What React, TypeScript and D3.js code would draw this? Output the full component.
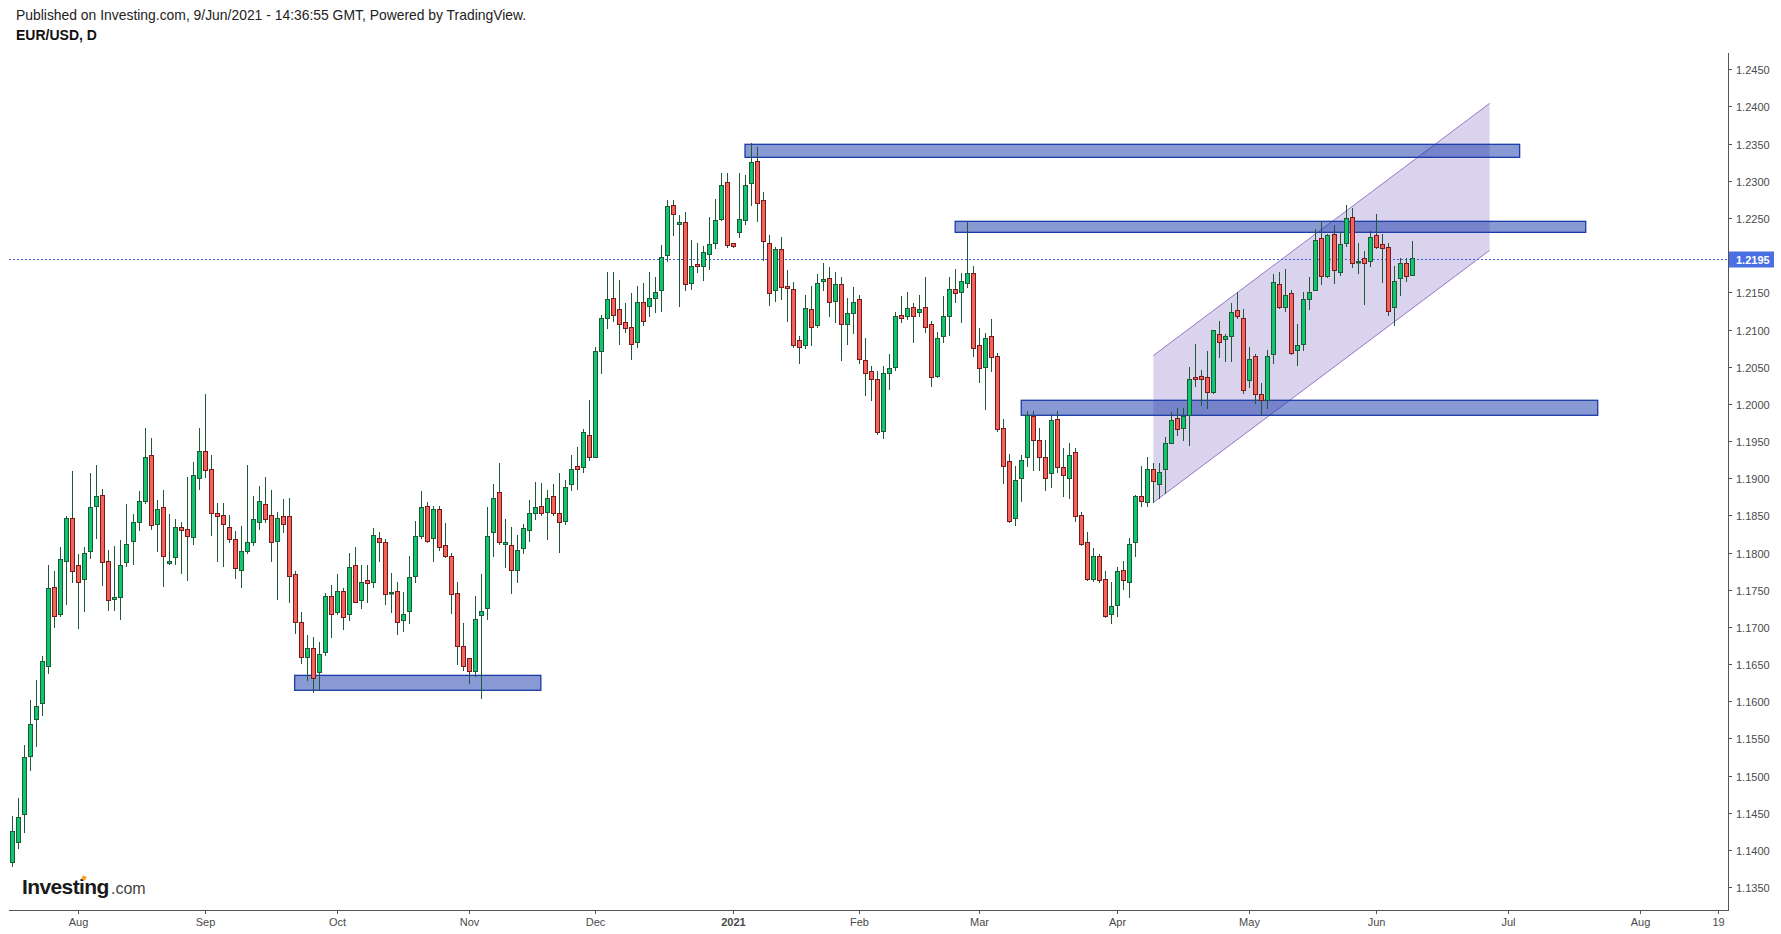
import React from "react";
import * as d3 from "d3";

// ---------- DATA (EUR/USD daily) ----------
const START_DATE = "2020-07-17";
const END_AXIS_DATE = "2021-08-31";

const opens = [
  1.1384, 1.1410, 1.1448, 1.1527, 1.1576, 1.1597, 1.1647, 1.1753, 1.1718, 1.1788,
  1.1846, 1.1783, 1.1765, 1.1802, 1.1863, 1.1877, 1.1788, 1.1738, 1.1740, 1.1787,
  1.1815, 1.1841, 1.1870, 1.1931, 1.1839, 1.1861, 1.1786, 1.1794, 1.1835, 1.1831,
  1.1821, 1.1900, 1.1936, 1.1912, 1.1853, 1.1850, 1.1834, 1.1818, 1.1777, 1.1802,
  1.1814, 1.1841, 1.1865, 1.1850, 1.1816, 1.1849, 1.1849, 1.1771, 1.1707, 1.1660,
  1.1671, 1.1639, 1.1666, 1.1742, 1.1720, 1.1748, 1.1717, 1.1783, 1.1736, 1.1763,
  1.1760, 1.1819, 1.1814, 1.1745, 1.1748, 1.1709, 1.1722, 1.1769, 1.1822, 1.1862,
  1.1819, 1.1858, 1.1810, 1.1796, 1.1746, 1.1674, 1.1658, 1.1640, 1.1716, 1.1725,
  1.1827, 1.1882, 1.1812, 1.1810, 1.1777, 1.1806, 1.1830, 1.1853, 1.1863, 1.1854,
  1.1876, 1.1853, 1.1842, 1.1892, 1.1916, 1.1915, 1.1958, 1.1928, 1.2071, 1.2115,
  1.2142, 1.2128, 1.2110, 1.2103, 1.2083, 1.2137, 1.2131, 1.2143, 1.2153, 1.2200,
  1.2268, 1.2242, 1.2244, 1.2163, 1.2188, 1.2186, 1.2202, 1.2217, 1.2248, 1.2298,
  1.2216, 1.2231, 1.2247, 1.2297, 1.2326, 1.2274, 1.2217, 1.2153, 1.2208, 1.2158,
  1.2154, 1.2086, 1.2079, 1.2127, 1.2106, 1.2165, 1.2169, 1.2138, 1.2161, 1.2108,
  1.2122, 1.2141, 1.2059, 1.2044, 1.2034, 1.1964, 1.2042, 1.2049, 1.2119, 1.2118,
  1.2130, 1.2123, 1.2130, 1.2107, 1.2037, 1.2091, 1.2118, 1.2155, 1.2150, 1.2163,
  1.2176, 1.2079, 1.2049, 1.2091, 1.2064, 1.1968, 1.1923, 1.1847, 1.1900, 1.1929,
  1.1983, 1.1952, 1.1929, 1.1907, 1.1979, 1.1915, 1.1900, 1.1935, 1.1851, 1.1814,
  1.1764, 1.1795, 1.1764, 1.1717, 1.1730, 1.1777, 1.1761, 1.1814, 1.1876, 1.1868,
  1.1913, 1.1892, 1.1912, 1.1948, 1.1981, 1.1967, 1.1985, 1.2036, 1.2037, 1.2036,
  1.2016, 1.2094, 1.2087, 1.2091, 1.2126, 1.2116, 1.2032, 1.2064, 1.2013, 1.2005,
  1.2067, 1.2161, 1.2130, 1.2149, 1.2073, 1.2080, 1.2141, 1.2153, 1.2223, 1.2172,
  1.2228, 1.2178, 1.2217, 1.2252, 1.2191, 1.2196, 1.2192, 1.2227, 1.2215, 1.2211,
  1.2130, 1.2169, 1.2190, 1.2173,
];
const highs = [
  1.1446, 1.1470, 1.1541, 1.1602, 1.1629, 1.1661, 1.1783, 1.1775, 1.1807, 1.1849,
  1.1910, 1.1798, 1.1807, 1.1907, 1.1918, 1.1885, 1.1803, 1.1809, 1.1817, 1.1865,
  1.1852, 1.1883, 1.1967, 1.1954, 1.1871, 1.1884, 1.1852, 1.1845, 1.1841, 1.1902,
  1.1922, 1.1968, 1.2013, 1.1931, 1.1867, 1.1867, 1.1850, 1.1829, 1.1836, 1.1918,
  1.1876, 1.1889, 1.1902, 1.1884, 1.1855, 1.1872, 1.1873, 1.1775, 1.1720, 1.1689,
  1.1686, 1.1680, 1.1746, 1.1756, 1.1771, 1.1752, 1.1799, 1.1808, 1.1783, 1.1783,
  1.1833, 1.1828, 1.1818, 1.1772, 1.1760, 1.1747, 1.1795, 1.1842, 1.1883, 1.1868,
  1.1863, 1.1862, 1.1840, 1.1799, 1.1760, 1.1705, 1.1658, 1.1741, 1.1771, 1.1861,
  1.1892, 1.1921, 1.1845, 1.1835, 1.1824, 1.1838, 1.1871, 1.1895, 1.1894, 1.1884,
  1.1892, 1.1907, 1.1897, 1.1931, 1.1942, 1.1966, 1.2005, 1.2077, 1.2119, 1.2177,
  1.2178, 1.2167, 1.2135, 1.2149, 1.2159, 1.2163, 1.2178, 1.2170, 1.2213, 1.2274,
  1.2274, 1.2254, 1.2258, 1.2221, 1.2217, 1.2212, 1.2251, 1.2275, 1.2310, 1.2310,
  1.2217, 1.2310, 1.2308, 1.2351, 1.2346, 1.2285, 1.2227, 1.2211, 1.2224, 1.2180,
  1.2164, 1.2091, 1.2146, 1.2158, 1.2174, 1.2190, 1.2184, 1.2177, 1.2170, 1.2143,
  1.2157, 1.2146, 1.2088, 1.2051, 1.2044, 1.2051, 1.2067, 1.2123, 1.2145, 1.2150,
  1.2135, 1.2146, 1.2170, 1.2111, 1.2096, 1.2145, 1.2170, 1.2181, 1.2176, 1.2244,
  1.2186, 1.2102, 1.2095, 1.2114, 1.2068, 1.1979, 1.1933, 1.1917, 1.1931, 1.1991,
  1.1990, 1.1968, 1.1952, 1.1986, 1.1990, 1.1940, 1.1948, 1.1941, 1.1854, 1.1828,
  1.1806, 1.1798, 1.1775, 1.1761, 1.1781, 1.1788, 1.1820, 1.1878, 1.1916, 1.1928,
  1.1921, 1.1920, 1.1956, 1.1989, 1.1995, 1.1995, 1.2049, 1.2080, 1.2045, 1.2071,
  1.2100, 1.2112, 1.2094, 1.2135, 1.2151, 1.2127, 1.2077, 1.2067, 1.2028, 1.2073,
  1.2174, 1.2178, 1.2182, 1.2153, 1.2108, 1.2151, 1.2170, 1.2235, 1.2246, 1.2229,
  1.2240, 1.2231, 1.2267, 1.2264, 1.2216, 1.2205, 1.2232, 1.2255, 1.2228, 1.2217,
  1.2186, 1.2196, 1.2196, 1.2219,
];
const lows = [
  1.1379, 1.1403, 1.1424, 1.1508, 1.1540, 1.1582, 1.1638, 1.1700, 1.1715, 1.1731,
  1.1760, 1.1698, 1.1722, 1.1793, 1.1819, 1.1757, 1.1723, 1.1723, 1.1711, 1.1782,
  1.1784, 1.1830, 1.1866, 1.1831, 1.1802, 1.1755, 1.1785, 1.1784, 1.1773, 1.1763,
  1.1812, 1.1885, 1.1902, 1.1823, 1.1789, 1.1782, 1.1814, 1.1766, 1.1754, 1.1800,
  1.1810, 1.1831, 1.1841, 1.1788, 1.1738, 1.1828, 1.1733, 1.1692, 1.1652, 1.1628,
  1.1613, 1.1615, 1.1662, 1.1686, 1.1718, 1.1697, 1.1709, 1.1733, 1.1726, 1.1734,
  1.1754, 1.1788, 1.1731, 1.1720, 1.1690, 1.1695, 1.1705, 1.1761, 1.1820, 1.1814,
  1.1788, 1.1804, 1.1794, 1.1719, 1.1650, 1.1642, 1.1624, 1.1634, 1.1605, 1.1711,
  1.1796, 1.1812, 1.1781, 1.1746, 1.1760, 1.1800, 1.1815, 1.1845, 1.1850, 1.1818,
  1.1851, 1.1801, 1.1838, 1.1884, 1.1886, 1.1909, 1.1925, 1.1928, 1.2041, 1.2102,
  1.2111, 1.2080, 1.2096, 1.2060, 1.2076, 1.2106, 1.2118, 1.2123, 1.2125, 1.2192,
  1.2227, 1.2131, 1.2153, 1.2155, 1.2178, 1.2166, 1.2182, 1.2209, 1.2247, 1.2211,
  1.2211, 1.2224, 1.2242, 1.2267, 1.2246, 1.2193, 1.2133, 1.2138, 1.2141, 1.2112,
  1.2076, 1.2055, 1.2075, 1.2079, 1.2104, 1.2153, 1.2118, 1.2110, 1.2059, 1.2081,
  1.2095, 1.2055, 1.2012, 1.2005, 1.1959, 1.1954, 1.2020, 1.2046, 1.2110, 1.2114,
  1.2083, 1.2118, 1.2096, 1.2024, 1.2036, 1.2083, 1.2092, 1.2137, 1.2110, 1.2157,
  1.2064, 1.2029, 1.1993, 1.2044, 1.1963, 1.1894, 1.1841, 1.1837, 1.1870, 1.1917,
  1.1911, 1.1911, 1.1884, 1.1888, 1.1908, 1.1876, 1.1873, 1.1843, 1.1810, 1.1763,
  1.1762, 1.1761, 1.1713, 1.1705, 1.1714, 1.1751, 1.1740, 1.1796, 1.1862, 1.1862,
  1.1868, 1.1873, 1.1880, 1.1947, 1.1958, 1.1951, 1.1944, 1.2024, 1.1999, 1.1994,
  1.2014, 1.2063, 1.2057, 1.2057, 1.2116, 1.2014, 1.2022, 1.2001, 1.1987, 1.1994,
  1.2055, 1.2129, 1.2125, 1.2067, 1.2052, 1.2072, 1.2127, 1.2153, 1.2161, 1.2170,
  1.2162, 1.2173, 1.2212, 1.2184, 1.2176, 1.2134, 1.2185, 1.2209, 1.2164, 1.2119,
  1.2106, 1.2146, 1.2165, 1.2173,
];
const closes = [
  1.1426, 1.1444, 1.1525, 1.1569, 1.1594, 1.1654, 1.1752, 1.1714, 1.1791, 1.1846,
  1.1775, 1.1761, 1.1800, 1.1861, 1.1876, 1.1787, 1.1736, 1.1740, 1.1783, 1.1812,
  1.1841, 1.1869, 1.1929, 1.1837, 1.1859, 1.1795, 1.1788, 1.1834, 1.1830, 1.1822,
  1.1904, 1.1936, 1.1911, 1.1853, 1.1849, 1.1838, 1.1818, 1.1779, 1.1802, 1.1814,
  1.1845, 1.1869, 1.1845, 1.1814, 1.1847, 1.1838, 1.1769, 1.1706, 1.1659, 1.1672,
  1.1631, 1.1664, 1.1742, 1.1718, 1.1748, 1.1713, 1.1781, 1.1734, 1.1760, 1.1759,
  1.1824, 1.1814, 1.1744, 1.1747, 1.1706, 1.1718, 1.1767, 1.1822, 1.1861, 1.1816,
  1.1859, 1.1808, 1.1795, 1.1744, 1.1674, 1.1647, 1.1640, 1.1711, 1.1722, 1.1822,
  1.1873, 1.1814, 1.1814, 1.1777, 1.1804, 1.1833, 1.1853, 1.1861, 1.1853, 1.1873,
  1.1853, 1.1841, 1.1888, 1.1913, 1.1913, 1.1962, 1.1928, 1.2071, 1.2115, 1.2141,
  1.2120, 1.2108, 1.2102, 1.2081, 1.2137, 1.2111, 1.2143, 1.2151, 1.2197, 1.2266,
  1.2255, 1.2244, 1.2161, 1.2185, 1.2186, 1.2204, 1.2215, 1.2247, 1.2295, 1.2213,
  1.2212, 1.2248, 1.2294, 1.2325, 1.2270, 1.2219, 1.2149, 1.2208, 1.2157, 1.2156,
  1.2079, 1.2076, 1.2129, 1.2104, 1.2162, 1.2168, 1.2137, 1.2161, 1.2108, 1.2122,
  1.2137, 1.2060, 1.2042, 1.2034, 1.1962, 1.2042, 1.2048, 1.2118, 1.2116, 1.2129,
  1.2118, 1.2127, 1.2104, 1.2036, 1.2088, 1.2118, 1.2154, 1.2149, 1.2165, 1.2176,
  1.2075, 1.2048, 1.2089, 1.2063, 1.1966, 1.1917, 1.1843, 1.1898, 1.1925, 1.1985,
  1.1952, 1.1928, 1.1900, 1.1978, 1.1915, 1.1904, 1.1931, 1.1849, 1.1812, 1.1764,
  1.1796, 1.1763, 1.1714, 1.1728, 1.1775, 1.1763, 1.1811, 1.1876, 1.1870, 1.1912,
  1.1896, 1.1909, 1.1947, 1.1978, 1.1966, 1.1983, 1.2033, 1.2033, 1.2033, 1.2016,
  1.2099, 1.2083, 1.2091, 1.2123, 1.2118, 1.2018, 1.2061, 1.2013, 1.2005, 1.2064,
  1.2164, 1.2130, 1.2146, 1.2069, 1.2079, 1.2141, 1.2151, 1.2220, 1.2172, 1.2227,
  1.2180, 1.2215, 1.2250, 1.2190, 1.2192, 1.2189, 1.2225, 1.2211, 1.2209, 1.2125,
  1.2165, 1.2189, 1.2172, 1.2196,
];

const yTickLabels = [
  "1.1350", "1.1400", "1.1450", "1.1500", "1.1550", "1.1600", "1.1650", "1.1700",
  "1.1750", "1.1800", "1.1850", "1.1900", "1.1950", "1.2000", "1.2050", "1.2100",
  "1.2150", "1.2200", "1.2250", "1.2300", "1.2350", "1.2400", "1.2450",
];

const monthLabels = ["Aug", "Sep", "Oct", "Nov", "Dec", "2021", "Feb", "Mar", "Apr", "May", "Jun", "Jul", "Aug", "19"];
const monthDates = [
  "2020-08-03", "2020-09-01", "2020-10-01", "2020-11-02", "2020-12-01", "2021-01-01",
  "2021-02-01", "2021-03-01", "2021-04-01", "2021-05-03", "2021-06-01", "2021-07-01",
  "2021-08-02", "2021-08-19",
];

// Drawings: rectangles (date range + price range)
const rectStart = ["2020-09-22", "2021-01-05", "2021-02-23", "2021-03-10"];
const rectEnd = ["2020-11-18", "2021-07-05", "2021-07-20", "2021-07-22"];
const rectTop = [1.16348, 1.23491, 1.22455, 1.20048];
const rectBottom = [1.16147, 1.23316, 1.22307, 1.19846];

// Parallel channel: lower line two anchors + channel height
const channelDates = ["2021-04-09", "2021-06-28"];
const channelLower = [1.18673, 1.22065];
const channelHeight = 0.01977;

const lastPrice = 1.2195;

// ---------- helpers ----------
function buildTradingDates(start: string, end: string): string[] {
  const out: string[] = [];
  const d = new Date(start + "T00:00:00Z");
  const e = new Date(end + "T00:00:00Z");
  while (d <= e) {
    const wd = d.getUTCDay();
    if (wd !== 0 && wd !== 6) out.push(d.toISOString().slice(0, 10));
    d.setUTCDate(d.getUTCDate() + 1);
  }
  return out;
}

const tradingDates = buildTradingDates(START_DATE, END_AXIS_DATE);
const idx = (d: string) => tradingDates.indexOf(d);

const W = 1781;
const H = 934;
const AXIS_X = 1728;
const AXIS_Y = 910;
const LEFT = 9;

const xScale = d3.scaleLinear().domain([0, 284]).range([12.4, 12.4 + 284 * 6.005]);
const yScale = d3.scaleLinear().domain([1.135, 1.245]).range([887.1, 69.3]);

const UP_FILL = "#10c56f";
const UP_BORDER = "#1d5b37";
const DN_FILL = "#f2645a";
const DN_BORDER = "#761a1c";
const WICK = "#1f5a36";
const FONT = "'Liberation Sans', Arial, sans-serif";

export default function App() {
  const priceY = yScale(lastPrice);
  const priceYr = Math.round(priceY);

  const candles = opens.map((o, i) => {
    const c = closes[i];
    const h = highs[i];
    const l = lows[i];
    const xr = Math.round(xScale(i));
    const up = c >= o;
    const yTop = Math.round(yScale(Math.max(o, c)));
    const yBot = Math.round(yScale(Math.min(o, c)));
    const yH = Math.round(yScale(h));
    const yL = Math.round(yScale(l));
    const bodyH = yBot - yTop;
    return (
      <g key={i}>
        <line x1={xr + 0.5} x2={xr + 0.5} y1={yH} y2={yL + 1} stroke={WICK} strokeWidth={1} />
        {bodyH >= 2 ? (
          <rect
            x={xr - 1.5}
            y={yTop + 0.5}
            width={4}
            height={bodyH}
            fill={up ? UP_FILL : DN_FILL}
            stroke={up ? UP_BORDER : DN_BORDER}
            strokeWidth={1}
          />
        ) : (
          <rect
            x={xr - 2}
            y={yTop}
            width={5}
            height={Math.max(bodyH, 0) + 1.5}
            fill={up ? UP_BORDER : DN_BORDER}
          />
        )}
      </g>
    );
  });

  const rects = rectStart.map((s, k) => {
    const x1 = xScale(idx(s));
    const x2 = xScale(idx(rectEnd[k]));
    const y1 = yScale(rectTop[k]);
    const y2 = yScale(rectBottom[k]);
    return (
      <rect
        key={k}
        x={x1}
        y={y1}
        width={x2 - x1}
        height={y2 - y1}
        fill="rgba(20,52,170,0.5)"
        stroke="#1b3ba6"
        strokeWidth={1.3}
      />
    );
  });

  const cx1 = xScale(idx(channelDates[0]));
  const cx2 = xScale(idx(channelDates[1]));
  const cl1 = yScale(channelLower[0]);
  const cl2 = yScale(channelLower[1]);
  const cu1 = yScale(channelLower[0] + channelHeight);
  const cu2 = yScale(channelLower[1] + channelHeight);

  return (
    <svg
      width={W}
      height={H}
      viewBox={`0 0 ${W} ${H}`}
      style={{ position: "absolute", left: 0, top: 0, background: "#ffffff" }}
    >
      <rect x={0} y={0} width={W} height={H} fill="#ffffff" />

      {/* header */}
      <text x={16} y={20} fontFamily={FONT} fontSize={13.9} fill="#222">
        Published on Investing.com, 9/Jun/2021 - 14:36:55 GMT, Powered by TradingView.
      </text>
      <text x={16} y={40} fontFamily={FONT} fontSize={14} fontWeight="bold" fill="#111">
        EUR/USD, D
      </text>

      {/* channel */}
      <polygon
        points={`${cx1},${cl1} ${cx2},${cl2} ${cx2},${cu2} ${cx1},${cu1}`}
        fill="rgba(140,120,200,0.33)"
        stroke="none"
      />
      <line x1={cx1} y1={cu1} x2={cx2} y2={cu2} stroke="#9575cd" strokeWidth={1} />
      <line x1={cx1} y1={cl1} x2={cx2} y2={cl2} stroke="#9575cd" strokeWidth={1} />

      {/* rectangles */}
      {rects}

      {/* last price line */}
      <line
        x1={LEFT}
        x2={AXIS_X}
        y1={priceYr + 0.5}
        y2={priceYr + 0.5}
        stroke="#3a5bd6"
        strokeWidth={1}
        strokeDasharray="2,2"
      />

      {/* candles */}
      {candles}

      {/* axes */}
      <line x1={LEFT} x2={AXIS_X + 0.5} y1={AXIS_Y + 0.5} y2={AXIS_Y + 0.5} stroke="#555" strokeWidth={1} />
      <line x1={AXIS_X + 0.5} x2={AXIS_X + 0.5} y1={53} y2={AXIS_Y + 1} stroke="#555" strokeWidth={1} />

      {yTickLabels.map((t) => {
        const y = Math.round(yScale(+t)) + 0.5;
        const hidden = Math.abs(y - priceYr) < 12;
        return (
          <g key={t}>
            <line x1={AXIS_X} x2={AXIS_X + 4} y1={y} y2={y} stroke="#555" />
            {!hidden && (
              <text x={AXIS_X + 8} y={y + 4} fontFamily={FONT} fontSize={11} fill="#4a4a4a">
                {t}
              </text>
            )}
          </g>
        );
      })}

      {monthLabels.map((m, k) => {
        const x = Math.round(xScale(idx(monthDates[k]))) + 0.5;
        return (
          <g key={k}>
            <line x1={x} x2={x} y1={AXIS_Y} y2={AXIS_Y + 4} stroke="#555" />
            <text
              x={x}
              y={926}
              textAnchor="middle"
              fontFamily={FONT}
              fontSize={11}
              fontWeight={m === "2021" ? "bold" : "normal"}
              fill="#4a4a4a"
            >
              {m}
            </text>
          </g>
        );
      })}

      {/* last price label */}
      <rect x={AXIS_X + 1} y={priceYr - 7.5} width={45} height={16} fill="#4a6fe3" />
      <text
        x={AXIS_X + 8}
        y={priceYr + 4.5}
        fontFamily={FONT}
        fontSize={11}
        fontWeight="bold"
        fill="#ffffff"
      >
        {lastPrice.toFixed(4)}
      </text>

      {/* logo */}
      <text x={22} y={894} fontFamily={FONT} fontSize={21} fontWeight="bold" letterSpacing={-0.6} fill="#1a1a1a">
        Investing
      </text>
      <text x={111} y={894} fontFamily={FONT} fontSize={16} fill="#444">
        .com
      </text>
      <rect x={82} y={876} width={4} height={4} fill="#f7a01a" transform="rotate(20 84 878)" />
    </svg>
  );
}
